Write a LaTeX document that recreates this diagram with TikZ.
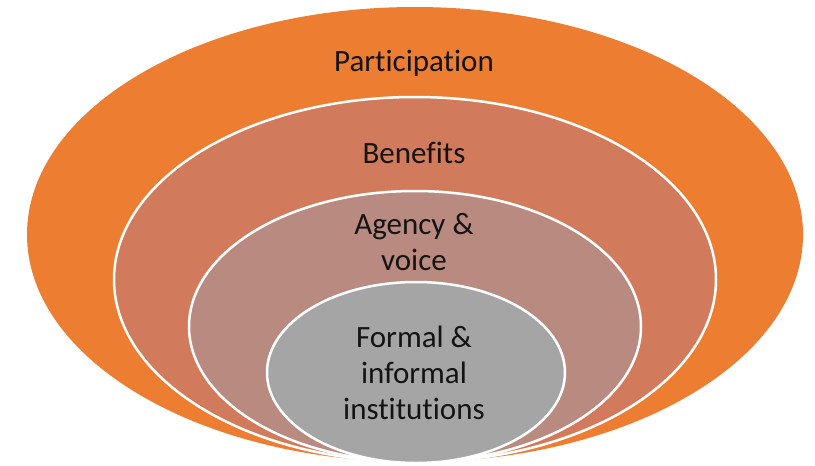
\documentclass[tikz,border=0pt]{standalone}
\usepackage{fontspec}
\setmainfont{Carlito}[Ligatures=NoCommon]
\usetikzlibrary{shapes.geometric}
\definecolor{cOuter}{RGB}{237,125,49}
\definecolor{cSecond}{RGB}{210,122,92}
\definecolor{cThird}{RGB}{185,138,128}
\definecolor{cInner}{RGB}{165,165,165}
\definecolor{cText}{RGB}{20,20,20}
\begin{document}
\begin{tikzpicture}[x=1pt,y=-1pt,
  ring/.style={ellipse, inner sep=0pt, draw=white, line width=2.5pt},
  lbl/.style={text=cText, font=\fontsize{31}{36}\selectfont, align=center, inner sep=0pt}]
\useasboundingbox (0,0) rectangle (815,466);
\node[ring, fill=cOuter, draw=none, minimum width=776pt, minimum height=455pt] (outer) at (415,234.5) {};
\node[ring, fill=cSecond, minimum width=602pt, minimum height=365pt] (second) at (415,279.5) {};
\node[ring, fill=cThird, minimum width=452pt, minimum height=271pt] (third) at (415,326.5) {};
\node[ring, fill=cInner, minimum width=298pt, minimum height=181pt] (inner) at (416,372.5) {};
\node[lbl] (tpart) at (414,63) {Participation};
\node[lbl] (tben) at (414,153) {Benefits};
\node[lbl] (tagency) at (414,242) {Agency \&\\voice};
\node[lbl] (tformal) at (414,373) {Formal \&\\informal\\institutions};
\end{tikzpicture}
\end{document}
